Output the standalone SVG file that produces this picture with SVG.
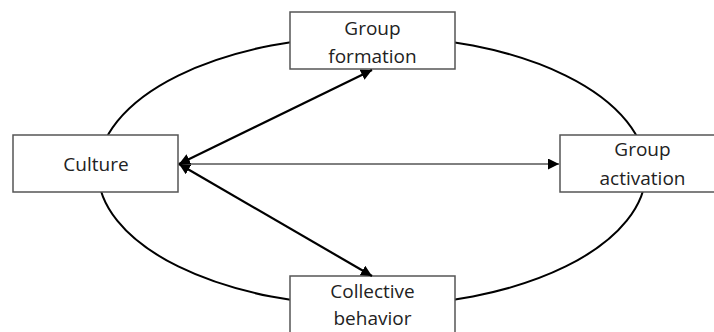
<svg xmlns="http://www.w3.org/2000/svg" width="714" height="332" viewBox="0 0 714 332">
<style>
.box{fill:#fff;stroke:#555;stroke-width:1.5}
.lbl{font-family:"Open Sans","Liberation Sans",sans-serif;font-size:19px;fill:#222;text-anchor:middle}
.thick{stroke:#000;stroke-width:2.2;fill:none}
.thin{stroke:#000;stroke-width:1;fill:none}
</style>
<defs>
<marker id="ah" viewBox="0 0 10 10" refX="10" refY="5" markerWidth="5" markerHeight="5" orient="auto-start-reverse" markerUnits="strokeWidth">
<path d="M0,0 L10,5 L0,10 z" fill="#000"/>
</marker>
<marker id="ahs" viewBox="0 0 10 10" refX="10" refY="5" markerWidth="11" markerHeight="11" orient="auto" markerUnits="strokeWidth">
<path d="M0,0 L10,5 L0,10 z" fill="#000"/>
</marker>
</defs>
<ellipse cx="372" cy="171" rx="274" ry="135" fill="none" stroke="#000" stroke-width="2"/>
<g id="culture"><rect class="box" x="13" y="135" width="165" height="57"/><text class="lbl" x="96" y="171">Culture</text></g>
<g id="group-formation"><rect class="box" x="290" y="12" width="165" height="57"/><text class="lbl" x="372.5" y="35">Group</text><text class="lbl" x="372.5" y="63">formation</text></g>
<g id="group-activation"><rect class="box" x="560" y="135" width="165" height="57"/><text class="lbl" x="642.5" y="156">Group</text><text class="lbl" x="642.5" y="185">activation</text></g>
<g id="collective-behavior"><rect class="box" x="290" y="276" width="165" height="60"/><text class="lbl" x="372.5" y="298">Collective</text><text class="lbl" x="372.5" y="325">behavior</text></g>
<g id="connectors">
<line class="thin" x1="179" y1="164" x2="559" y2="164" marker-end="url(#ahs)"/>
<line class="thick" x1="179" y1="164" x2="372" y2="70" marker-start="url(#ah)" marker-end="url(#ah)"/>
<line class="thick" x1="179" y1="164" x2="372" y2="276" marker-start="url(#ah)" marker-end="url(#ah)"/>
</g>
</svg>
